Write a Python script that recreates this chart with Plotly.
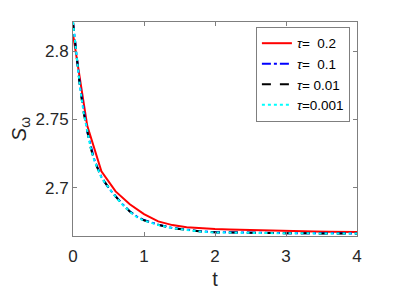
import plotly.graph_objects as go

# tau = 0.2 (coarse step)
t_red = [0, 0.2, 0.4, 0.6, 0.8, 1.0, 1.2, 1.4, 1.6, 1.8, 2.0, 2.2, 2.4, 2.6, 2.8, 3.0, 3.2, 3.4, 3.6, 3.8, 4.0]
s_red = [2.8125, 2.7455, 2.7120, 2.6972, 2.6878, 2.6805, 2.6752, 2.6725, 2.6710, 2.6701, 2.6696,
         2.6692, 2.6689, 2.6686, 2.6684, 2.6682, 2.6680, 2.6678, 2.6677, 2.6675, 2.6674]

# tau = 0.1
t_blue = [0, 0.1, 0.2, 0.3, 0.4, 0.5, 0.6, 0.7, 0.8, 0.9, 1.0, 1.1, 1.2, 1.4, 1.6, 1.8, 2.0, 2.4, 3.0, 3.5, 4.0]
s_blue = [2.8215, 2.7738, 2.7412, 2.7205, 2.7078, 2.6998, 2.6937, 2.6877, 2.6827, 2.6787, 2.6762,
          2.6743, 2.6728, 2.6704, 2.6689, 2.6679, 2.6673, 2.6668, 2.6666, 2.6665, 2.6664]

# tau = 0.01 and 0.001 (fine steps)
t_fine = [0, 0.05, 0.1, 0.15, 0.2, 0.25, 0.3, 0.35, 0.4, 0.45, 0.5, 0.55, 0.6, 0.7, 0.8, 0.9,
          1.0, 1.1, 1.2, 1.4, 1.6, 1.8, 2.0, 2.4, 3.0, 3.5, 4.0]
s_black = [2.8215, 2.7955, 2.7730, 2.7550, 2.7405, 2.7290, 2.7200, 2.7130, 2.7075, 2.7038, 2.6998,
           2.6968, 2.6935, 2.6875, 2.6825, 2.6785, 2.6760, 2.6741, 2.6727, 2.6703, 2.6688, 2.6678,
           2.6672, 2.6667, 2.6665, 2.6664, 2.6664]
s_cyan = [2.8215, 2.7953, 2.7728, 2.7548, 2.7403, 2.7288, 2.7198, 2.7128, 2.7073, 2.7036, 2.6996,
          2.6966, 2.6933, 2.6873, 2.6823, 2.6783, 2.6758, 2.6740, 2.6726, 2.6702, 2.6687, 2.6677,
          2.6671, 2.6667, 2.6665, 2.6664, 2.6663]

labels = ["<i>τ</i>=\u00a0\u00a00.2", "<i>τ</i>=\u00a0\u00a00.1", "<i>τ</i>=\u00a00.01", "<i>τ</i>=0.001"]

x_ticks = [0, 1, 2, 3, 4]
y_ticks = [2.7, 2.75, 2.8]
y_tick_text = ["2.7", "2.75", "2.8"]

fig = go.Figure()
fig.add_trace(go.Scatter(x=t_red, y=s_red, mode="lines", name=labels[0],
                         line=dict(color="#ff0000", width=2)))
fig.add_trace(go.Scatter(x=t_blue, y=s_blue, mode="lines", name=labels[1],
                         line=dict(color="#0000ff", width=2, dash="dashdot")))
fig.add_trace(go.Scatter(x=t_fine, y=s_black, mode="lines", name=labels[2],
                         line=dict(color="#000000", width=2, dash="dash")))
fig.add_trace(go.Scatter(x=t_fine, y=s_cyan, mode="lines", name=labels[3],
                         line=dict(color="#00ffff", width=2, dash="dot")))

axis_common = dict(showline=True, linecolor="#7f7f7f", linewidth=1, mirror="ticks",
                   ticks="inside", ticklen=4, tickcolor="#7f7f7f", showgrid=False,
                   zeroline=False, automargin=False,
                   tickfont=dict(size=17, color="#262626"))

fig.update_xaxes(range=[0, 4], tickvals=x_ticks, ticklabelstandoff=5,
                 title=dict(text="t", font=dict(size=20, color="#262626"), standoff=6),
                 **axis_common)
fig.update_yaxes(range=[2.6645, 2.8215], tickvals=y_ticks, ticktext=y_tick_text,
                 title=dict(text="<i>S</i><sub>ω</sub>", font=dict(size=20, color="#262626"), standoff=4),
                 **axis_common)

fig.update_layout(
    width=387, height=288,
    margin=dict(l=65, r=38, t=14, b=60, autoexpand=False),
    paper_bgcolor="white", plot_bgcolor="white",
    font=dict(family="Liberation Sans, Arial, sans-serif", color="#000000"),
    legend=dict(x=0.975, y=0.977, xanchor="right", yanchor="top",
                bgcolor="white", bordercolor="#7f7f7f", borderwidth=1,
                font=dict(size=13.5, color="#000000"), itemwidth=30,
                tracegroupgap=0),
    showlegend=True,
)

fig.write_html("out.html")
